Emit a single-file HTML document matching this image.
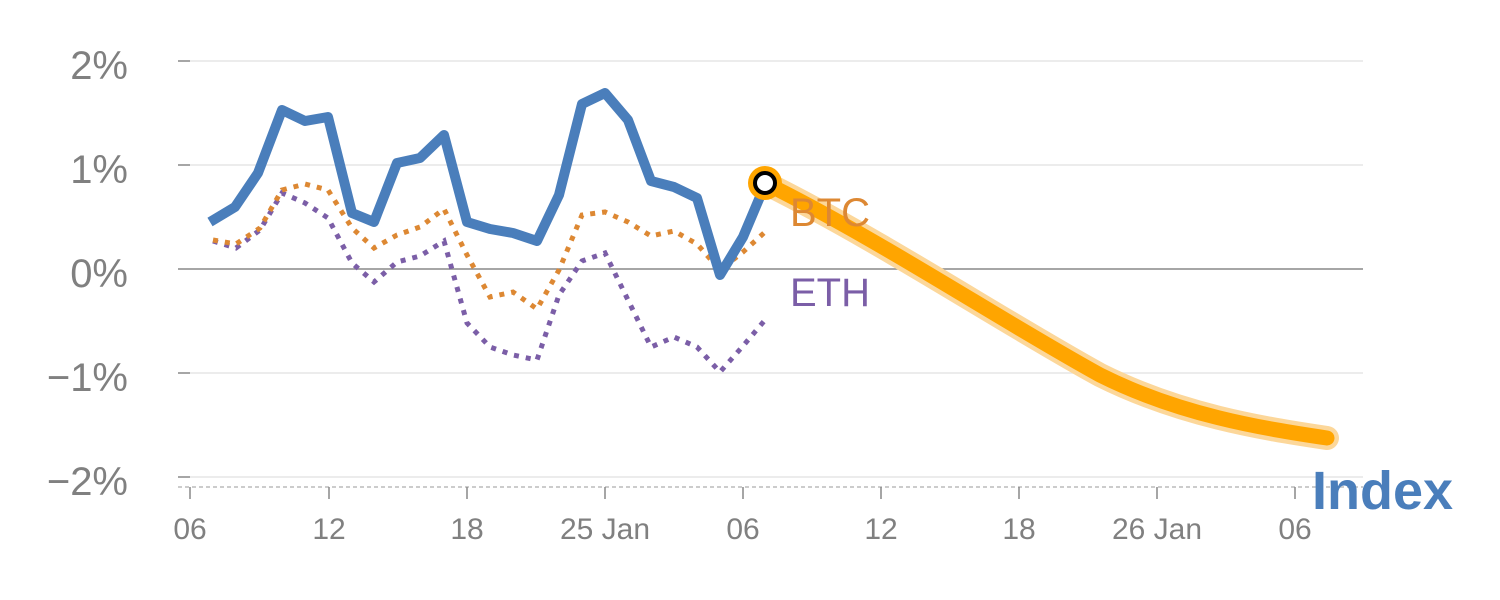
<!DOCTYPE html>
<html><head><meta charset="utf-8"><style>
html,body{margin:0;padding:0;background:#fff;}
svg{display:block;font-family:"Liberation Sans",Arial,sans-serif;}
</style></head><body>
<svg width="1500" height="600" viewBox="0 0 1500 600">
<g stroke="#e6e6e6" stroke-width="1.5">
<line x1="190" y1="61" x2="1363" y2="61"/>
<line x1="190" y1="165" x2="1363" y2="165"/>
<line x1="190" y1="373" x2="1363" y2="373"/>
<line x1="190" y1="477" x2="1363" y2="477"/>
</g>
<line x1="178" y1="269" x2="1363" y2="269" stroke="#888" stroke-width="1.5"/>
<line x1="178" y1="487" x2="1363" y2="487" stroke="#ccc" stroke-width="2" stroke-dasharray="4,3"/>
<g stroke="#888" stroke-width="1.5">
<line x1="178" y1="61" x2="190" y2="61"/><line x1="178" y1="165" x2="190" y2="165"/>
<line x1="178" y1="373" x2="190" y2="373"/><line x1="178" y1="477" x2="190" y2="477"/>
<line x1="190" y1="487" x2="190" y2="499"/><line x1="329" y1="487" x2="329" y2="499"/>
<line x1="467" y1="487" x2="467" y2="499"/><line x1="605" y1="487" x2="605" y2="499"/>
<line x1="743" y1="487" x2="743" y2="499"/><line x1="881" y1="487" x2="881" y2="499"/>
<line x1="1019" y1="487" x2="1019" y2="499"/><line x1="1157" y1="487" x2="1157" y2="499"/>
<line x1="1295" y1="487" x2="1295" y2="499"/>
</g>
<g fill="#808080" font-size="40" text-anchor="end">
<text x="128" y="79">2%</text><text x="128" y="183">1%</text><text x="128" y="287">0%</text>
<text x="128" y="391">−1%</text><text x="128" y="495">−2%</text>
</g>
<g fill="#808080" font-size="30" text-anchor="middle">
<text x="190" y="539">06</text><text x="329" y="539">12</text><text x="467" y="539">18</text>
<text x="605" y="539">25 Jan</text><text x="743" y="539">06</text><text x="881" y="539">12</text>
<text x="1019" y="539">18</text><text x="1157" y="539">26 Jan</text><text x="1295" y="539">06</text>
</g>
<path d="M765,183 C880,240 1000,320 1100,375 C1180,415 1260,428 1327,438" fill="none" stroke="#fcd79a" stroke-width="24" stroke-linecap="round"/>
<path d="M765,183 C880,240 1000,320 1100,375 C1180,415 1260,428 1327,438" fill="none" stroke="#ffa500" stroke-width="15" stroke-linecap="round"/>
<polyline fill="none" stroke="#7b5ea7" stroke-width="5" stroke-dasharray="5,7" points="213,241 236,248 260,230 282,193 305,203 328,218 352,263 374,282 397,262 420,256 444,241 467,323 490,347 513,355 537,360 559,295 582,261 605,253 628,300 651,347 674,337 697,347 720,372 743,346 765,320"/>
<polyline fill="none" stroke="#dd8833" stroke-width="5" stroke-dasharray="5,7" points="213,240 236,244 260,228 282,190 305,184 328,190 352,228 374,248 397,235 420,227 444,209 467,255 490,297 513,292 537,309 559,270 582,215 605,212 628,222 651,236 674,231 697,244 720,270 743,252 765,232"/>
<polyline fill="none" stroke="#4a7ebb" stroke-width="10" stroke-linejoin="round" points="210,222 235,207 258,173 282,110 305,121 328,117 352,213 374,222 397,163 420,158 444,135 467,222 490,229 513,233 537,241 559,195 582,104 605,93 628,120 651,181 674,187 697,198 720,275 743,237 765,185"/>
<circle cx="765" cy="183" r="17" fill="#ffa500"/>
<circle cx="765" cy="183" r="10" fill="#fff" stroke="#000" stroke-width="4"/>
<text x="790" y="226" fill="#dd8833" font-size="40">BTC</text>
<text x="790" y="306" fill="#7b5ea7" font-size="40">ETH</text>
<text x="1312" y="509" fill="#4a7ebb" font-size="54" font-weight="bold">Index</text>
</svg>
</body></html>
